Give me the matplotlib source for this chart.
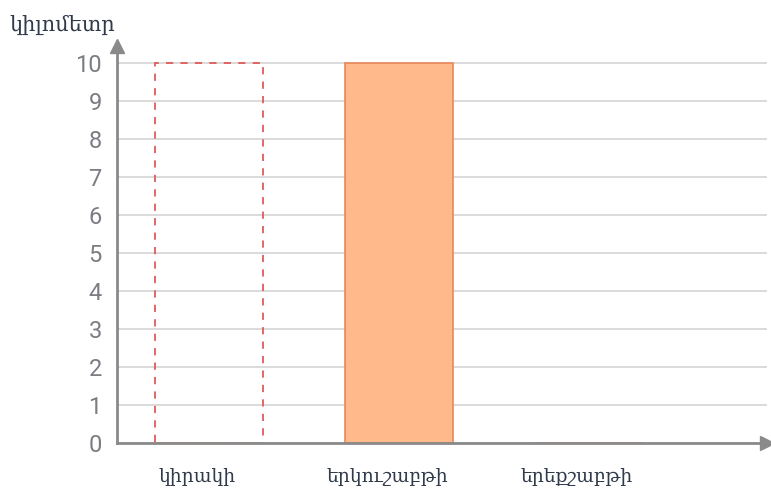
import matplotlib.pyplot as plt
from matplotlib.transforms import ScaledTranslation

# Данные
days = ["կիրակի", "երկուշաբթի", "երեքշաբթի"]
km = [0, 10, 0]          # заполненные столбцы
km_dashed = [10, 0, 0]   # пунктирный (неизвестный) столбец
y_ticks = list(range(0, 11))
y_label = "կիլոմետր"

fig = plt.figure(figsize=(7.71, 4.94), dpi=100)
ax = fig.add_axes([0.1518, 0.1032, 0.843, 0.8036])

x = range(len(days))
width = 0.57

# пунктирный столбец
ax.bar(x, km_dashed, width=width, fill=False, edgecolor="#e05a5a",
       linestyle=(0, (4, 4)), linewidth=1.3, zorder=3)
# обычные столбцы
ax.bar(x, km, width=width, color="#ffb98a", edgecolor="#e8875a",
       linewidth=1.2, zorder=3)

ax.set_xlim(-0.487, 2.94)
ax.set_ylim(0, 10.45)
ax.set_yticks(y_ticks)
ax.set_xticks(list(x))
ax.set_xticklabels(days, family="DejaVu Serif", fontsize=13.5, color="#2f3a4a")
ax.tick_params(axis="x", length=0, pad=17)
ax.tick_params(axis="y", length=0, pad=11, labelsize=17, labelcolor="#7a7d82")
for t in ax.get_yticklabels():
    t.set_family("Roboto")
shift = ScaledTranslation(-0.12, 0, fig.dpi_scale_trans)
for t in ax.get_xticklabels():
    t.set_transform(t.get_transform() + shift)

ax.grid(axis="y", color="#d4d4d4", linewidth=1.2, zorder=0)
for s in ["top", "right"]:
    ax.spines[s].set_visible(False)
for s in ["left", "bottom"]:
    ax.spines[s].set_color("#8a8a8a")
    ax.spines[s].set_linewidth(2)
    ax.spines[s].set_zorder(4)

# стрелки осей
ax.plot(0, 1, marker="^", markersize=10, color="#8a8a8a",
        transform=ax.transAxes, clip_on=False, zorder=5)
ax.plot(1, 0, marker=">", markersize=10, color="#8a8a8a",
        transform=ax.transAxes, clip_on=False, zorder=5)

fig.text(0.012, 0.95, y_label, family="DejaVu Serif", fontsize=15,
         color="#2f3a4a", ha="left", va="center")

fig.savefig("out.png", dpi=100)
